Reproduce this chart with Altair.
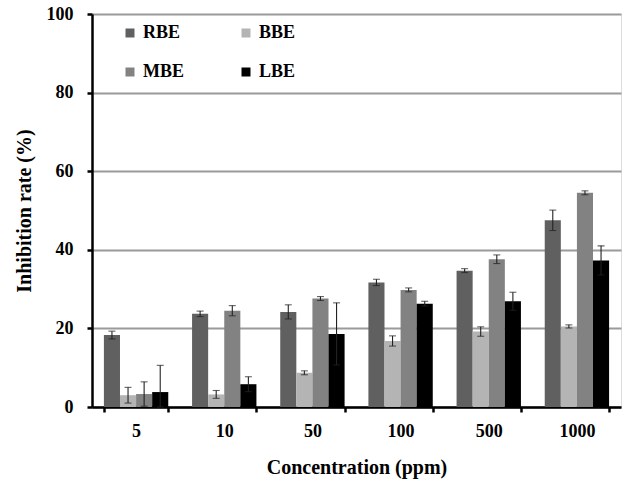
import altair as alt
import pandas as pd

conc = ["5", "10", "50", "100", "500", "1000"]
series = ["RBE", "BBE", "MBE", "LBE"]
colors = ["#606060", "#b4b4b4", "#828282", "#000000"]

RBE = [18.3, 23.7, 24.2, 31.7, 34.7, 47.5]
RBE_err = [1.0, 0.7, 1.8, 0.8, 0.5, 2.6]
BBE = [3.0, 3.2, 8.7, 16.8, 19.2, 20.5]
BBE_err = [2.0, 1.0, 0.5, 1.3, 1.2, 0.4]
MBE = [3.3, 24.5, 27.6, 29.8, 37.6, 54.5]
MBE_err = [3.1, 1.3, 0.5, 0.5, 1.1, 0.5]
LBE = [3.8, 5.8, 18.6, 26.3, 26.9, 37.3]
LBE_err = [6.8, 1.9, 7.9, 0.6, 2.3, 3.7]

vals = {"RBE": (RBE, RBE_err), "BBE": (BBE, BBE_err), "MBE": (MBE, MBE_err), "LBE": (LBE, LBE_err)}
rows = []
for s in series:
    v, e = vals[s]
    for c, vi, ei in zip(conc, v, e):
        rows.append({"conc": c, "series": s, "value": vi,
                     "lo": max(vi - ei, 0), "hi": vi + ei})
df = pd.DataFrame(rows)

FONT = "Liberation Serif"

x = alt.X("conc:N", sort=conc, title="Concentration (ppm)",
          scale=alt.Scale(paddingInner=0.27, paddingOuter=0.135),
          axis=alt.Axis(labelAngle=0, tickBand="extent", tickSize=5, tickWidth=2.5,
                        tickColor="black", domainColor="black", domainWidth=2.5,
                        labelFont=FONT, labelFontWeight="bold", labelFontSize=18,
                        labelPadding=10, titleFont=FONT, titleFontWeight="bold",
                        titleFontSize=20, titlePadding=17, labelColor="black", titleColor="black"))
xo = alt.XOffset("series:N", sort=series, scale=alt.Scale(paddingInner=0, paddingOuter=0))

base = alt.Chart(df)

bars = base.mark_bar().encode(
    x=x,
    xOffset=xo,
    y=alt.Y("value:Q", title="Inhibition rate (%)",
            scale=alt.Scale(domain=[0, 100]),
            axis=alt.Axis(values=[0, 20, 40, 60, 80, 100], tickSize=5, tickWidth=2.5,
                          tickColor="black", domainColor="black", domainWidth=2.5,
                          grid=True, gridColor="#9a9a9a", gridWidth=2,
                          labelFont=FONT, labelFontWeight="bold", labelFontSize=18,
                          labelPadding=14, titleFont=FONT, titleFontWeight="bold",
                          titleFontSize=20, titlePadding=12, labelColor="black", titleColor="black")),
    color=alt.Color("series:N", sort=series,
                    scale=alt.Scale(domain=series, range=colors),
                    legend=alt.Legend(title=None, orient="none", legendX=29, legendY=10,
                                      columns=2, direction="horizontal",
                                      symbolType="square", symbolSize=81,
                                      symbolStrokeWidth=0, symbolOpacity=1,
                                      labelFont=FONT, labelFontWeight="bold",
                                      labelFontSize=18, labelColor="black",
                                      labelOffset=4, rowPadding=21, columnPadding=52)),
)

rules = base.mark_rule(color="#222222", strokeWidth=1.1).encode(
    x=alt.X("conc:N", sort=conc), xOffset=xo,
    y="lo:Q", y2="hi:Q")

caps_hi = base.mark_tick(color="#222222", size=7, thickness=1.1, orient="horizontal").encode(
    x=alt.X("conc:N", sort=conc), xOffset=xo, y="hi:Q")
caps_lo = base.mark_tick(color="#222222", size=7, thickness=1.1, orient="horizontal").encode(
    x=alt.X("conc:N", sort=conc), xOffset=xo, y="lo:Q")

chart = alt.layer(bars, rules, caps_hi, caps_lo).properties(
    width=529, height=393,
    autosize=alt.AutoSizeParams(type="none"),
    padding={"left": 92, "top": 14, "right": 6, "bottom": 72},
).configure_view(stroke="black", strokeWidth=2.5).configure(background="white")

chart.save("out.html", embed_options={"renderer": "svg", "actions": False})
